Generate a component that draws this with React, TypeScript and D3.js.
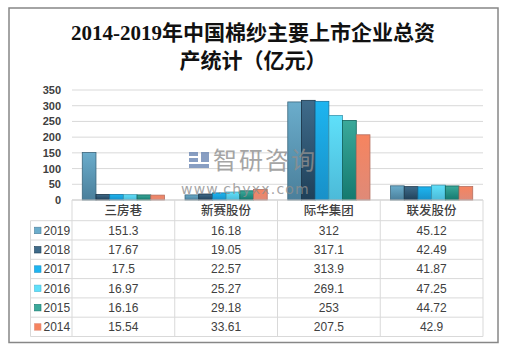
import React from "react";
import { scaleBand, scaleLinear, color as d3color } from "d3";

const companies = ["三房巷", "新赛股份", "际华集团", "联发股份"];
const years = ["2019", "2018", "2017", "2016", "2015", "2014"];
const v2019 = [151.3, 16.18, 312, 45.12];
const v2018 = [17.67, 19.05, 317.1, 42.49];
const v2017 = [17.5, 22.57, 313.9, 41.87];
const v2016 = [16.97, 25.27, 269.1, 47.25];
const v2015 = [16.16, 29.18, 253, 44.72];
const v2014 = [15.54, 33.61, 207.5, 42.9];
const labels2019 = ["151.3", "16.18", "312", "45.12"];
const labels2018 = ["17.67", "19.05", "317.1", "42.49"];
const labels2017 = ["17.5", "22.57", "313.9", "41.87"];
const labels2016 = ["16.97", "25.27", "269.1", "47.25"];
const labels2015 = ["16.16", "29.18", "253", "44.72"];
const labels2014 = ["15.54", "33.61", "207.5", "42.9"];
const yTicks = [0, 50, 100, 150, 200, 250, 300, 350];

const series = [v2019, v2018, v2017, v2016, v2015, v2014];
const seriesLabels = [labels2019, labels2018, labels2017, labels2016, labels2015, labels2014];
// top / bottom colours of each bar gradient
const topColors = ["#6badcc", "#3f6b8a", "#1db5f0", "#5fe0fa", "#3aa99a", "#f6845f"];
const bottomColors = ["#4a7f9b", "#1f4059", "#1890c8", "#4cbad8", "#14796f", "#df8a78"];

const W = 511;
const H = 352;
const left = 72;
const right = 483;
const top = 90;
const base = 200;
const rowH = 19.3;
const legendLeft = 30.5;

const App = () => {
  const x = scaleBand<string>().domain(companies).range([left, right]);
  const xi = scaleBand<string>()
    .domain(years)
    .range([0, x.bandwidth()])
    .paddingInner(0)
    .paddingOuter(0.75);
  const y = scaleLinear().domain([0, 350]).range([base, top]);

  const headerBottom = base + rowH + 1.4;
  const tableBottom = headerBottom + rowH * years.length;
  const font = "'Liberation Sans', 'Noto Sans CJK SC', sans-serif";

  return (
    <div style={{ position: "fixed", left: 0, top: 0 }}>
      <svg width={W} height={H} style={{ display: "block", background: "#fff" }}>
        <defs>
          {years.map((yr, i) => (
            <linearGradient key={yr} id={`g${yr}`} x1="0" y1="0" x2="0" y2="1">
              <stop offset="0%" stopColor={topColors[i]} />
              <stop offset="100%" stopColor={bottomColors[i]} />
            </linearGradient>
          ))}
        </defs>
        <rect x={9} y={8} width={489} height={334.5} fill="#fff" stroke="#878787" strokeWidth={1.5} />

        <text
          x={253}
          y={40}
          textAnchor="middle"
          fontFamily="'Liberation Serif', 'Noto Sans CJK SC', serif"
          fontWeight={700}
          fontSize={21}
          fill="#111"
        >
          2014-2019年中国棉纱主要上市企业总资
        </text>
        <text
          x={253}
          y={68}
          textAnchor="middle"
          fontFamily="'Liberation Serif', 'Noto Sans CJK SC', serif"
          fontWeight={700}
          fontSize={21}
          fill="#111"
        >
          产统计（亿元）
        </text>

        {yTicks.map((t) => (
          <g key={t}>
            {t > 0 && <line x1={left} x2={right} y1={y(t)} y2={y(t)} stroke="#d9d9d9" />}
            <text
              x={61}
              y={y(t) + 4}
              textAnchor="end"
              fontFamily={font}
              fontSize={11}
              fontWeight={700}
              fill="#404040"
            >
              {t}
            </text>
          </g>
        ))}

        {companies.map((c, ci) => (
          <g key={c} transform={`translate(${x(c)},0)`}>
            {years.map((yr, si) => {
              const v = series[si][ci];
              return (
                <rect
                  key={yr}
                  x={xi(yr)}
                  y={y(v)}
                  width={xi.bandwidth()}
                  height={base - y(v)}
                  fill={`url(#g${yr})`}
                  stroke={d3color(bottomColors[si])!.darker(0.6).formatHex()}
                  strokeWidth={0.8}
                />
              );
            })}
          </g>
        ))}

        {/* watermark, drawn over the bars */}
        <g opacity={0.8}>
          <rect x={189} y={152} width={9} height={4} fill="#6b86b3" />
          <rect x={189} y={158} width={9} height={4} fill="#6b86b3" />
          <rect x={189} y={164} width={20} height={4} fill="#6b86b3" />
          <rect x={201} y={152} width={8} height={10} fill="#6b86b3" />
          <text x={213} y={169} fontFamily="'Noto Sans CJK SC', sans-serif" fontSize={24} fill="#8f8f8f" letterSpacing={2}>
            智研咨询
          </text>
          <text x={181} y={194} fontFamily="'DejaVu Sans', sans-serif" fontSize={14} fill="#8f8f8f" letterSpacing={1.2}>
            www.chyxx.com
          </text>
        </g>

        {/* data table */}
        <line x1={left} x2={right} y1={base} y2={base} stroke="#bfbfbf" />
        <line x1={legendLeft} x2={right} y1={headerBottom} y2={headerBottom} stroke="#d9d9d9" />
        {years.map((yr, i) => (
          <line
            key={yr}
            x1={legendLeft}
            x2={right}
            y1={headerBottom + rowH * (i + 1)}
            y2={headerBottom + rowH * (i + 1)}
            stroke="#d9d9d9"
          />
        ))}
        <line x1={legendLeft} x2={legendLeft} y1={headerBottom} y2={tableBottom} stroke="#d9d9d9" />
        {[...companies.map((c) => x(c)!), right].map((xv, i) => (
          <line key={i} x1={xv} x2={xv} y1={base} y2={tableBottom} stroke="#d9d9d9" />
        ))}
        {companies.map((c) => (
          <text
            key={c}
            x={x(c)! + x.bandwidth() / 2}
            y={base + 15}
            textAnchor="middle"
            fontFamily="'Noto Sans CJK SC', sans-serif"
            fontSize={12.5}
            fontWeight={500}
            fill="#404040"
          >
            {c}
          </text>
        ))}
        {years.map((yr, si) => {
          const ry = headerBottom + rowH * si;
          return (
            <g key={yr}>
              <rect x={34.5} y={ry + 6.5} width={6.5} height={6.5} fill={topColors[si]} stroke={bottomColors[si]} strokeWidth={0.6} />
              <text x={43.5} y={ry + 14} fontFamily={font} fontSize={12} fill="#404040">
                {yr}
              </text>
              {companies.map((c, ci) => (
                <text
                  key={c}
                  x={x(c)! + x.bandwidth() / 2}
                  y={ry + 14}
                  textAnchor="middle"
                  fontFamily={font}
                  fontSize={12}
                  fill="#404040"
                >
                  {seriesLabels[si][ci]}
                </text>
              ))}
            </g>
          );
        })}
      </svg>
    </div>
  );
};

export default App;
